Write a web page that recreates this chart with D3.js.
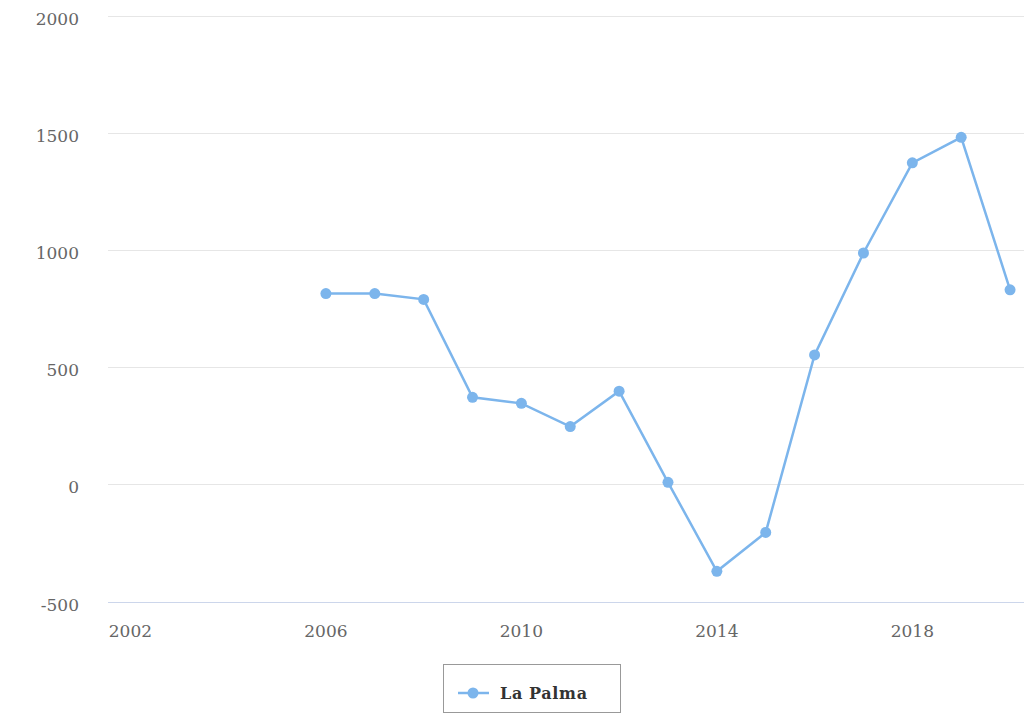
<!DOCTYPE html>
<html>
<head>
<meta charset="utf-8">
<script src="https://cdn.jsdelivr.net/npm/d3@7"></script>
<style>
  body { margin: 0; background: #fff; }
  svg { display: block; font-family: "DejaVu Serif", serif; }
</style>
</head>
<body>
<div id="node"></div>
<script>
// La Palma series
const years = [2006, 2007, 2008, 2009, 2010, 2011, 2012, 2013, 2014, 2015, 2016, 2017, 2018, 2019, 2020];
const values = [815, 815, 790, 372, 346, 247, 398, 9, -371, -205, 553, 988, 1373, 1482, 831];
const yTicks = [-500, 0, 500, 1000, 1500, 2000];
const xTicks = [2002, 2006, 2010, 2014, 2018];
const seriesName = "La Palma";

const width = 1024, height = 713;
const color = "#7cb5ec";

const svg = d3.select("#node")
    .append("svg")
    .attr("width", width)
    .attr("height", height);

const x = d3.scaleLinear()
    .domain([2001.5, 2020.5])
    .range([106, 1034.5]);

const y = d3.scaleLinear()
    .domain([-500, 2000])
    .range([601.5, 16]);

// grid lines
svg.append("g")
    .selectAll("line")
    .data(yTicks)
    .enter()
    .append("line")
    .attr("x1", 108)
    .attr("x2", width)
    .attr("y1", d => Math.round(y(d)) + 0.5)
    .attr("y2", d => Math.round(y(d)) + 0.5)
    .attr("stroke", d => d === -500 ? "#ccd6eb" : "#e6e6e6")
    .attr("stroke-width", 1);

// y labels
svg.append("g")
    .selectAll("text")
    .data(yTicks)
    .enter()
    .append("text")
    .attr("x", 79)
    .attr("y", d => y(d) + 9)
    .attr("text-anchor", "end")
    .attr("fill", "#666")
    .attr("font-size", "17px")
    .text(d => d);

// x labels
svg.append("g")
    .selectAll("text")
    .data(xTicks)
    .enter()
    .append("text")
    .attr("x", d => x(d))
    .attr("y", 637)
    .attr("text-anchor", "middle")
    .attr("fill", "#666")
    .attr("font-size", "17px")
    .text(d => d);

const data = years.map((yr, i) => ({ x: yr, y: values[i] }));

const line = d3.line()
    .x(d => x(d.x))
    .y(d => y(d.y));

svg.append("path")
    .datum(data)
    .attr("d", line)
    .attr("fill", "none")
    .attr("stroke", color)
    .attr("stroke-width", 2.5);

svg.append("g")
    .selectAll("circle")
    .data(data)
    .enter()
    .append("circle")
    .attr("cx", d => x(d.x))
    .attr("cy", d => y(d.y))
    .attr("r", 5.5)
    .attr("fill", color);

// legend
const legend = svg.append("g");
legend.append("rect")
    .attr("x", 443.5)
    .attr("y", 664.5)
    .attr("width", 177)
    .attr("height", 48)
    .attr("fill", "none")
    .attr("stroke", "#999")
    .attr("stroke-width", 1);
legend.append("line")
    .attr("x1", 458)
    .attr("x2", 489)
    .attr("y1", 693)
    .attr("y2", 693)
    .attr("stroke", color)
    .attr("stroke-width", 2.5);
legend.append("circle")
    .attr("cx", 473)
    .attr("cy", 693)
    .attr("r", 5.5)
    .attr("fill", color);
legend.append("text")
    .attr("x", 500)
    .attr("y", 699)
    .attr("fill", "#333")
    .attr("font-size", "16px")
    .attr("font-weight", "bold")
    .attr("textLength", 87)
    .text(seriesName);
</script>
</body>
</html>
